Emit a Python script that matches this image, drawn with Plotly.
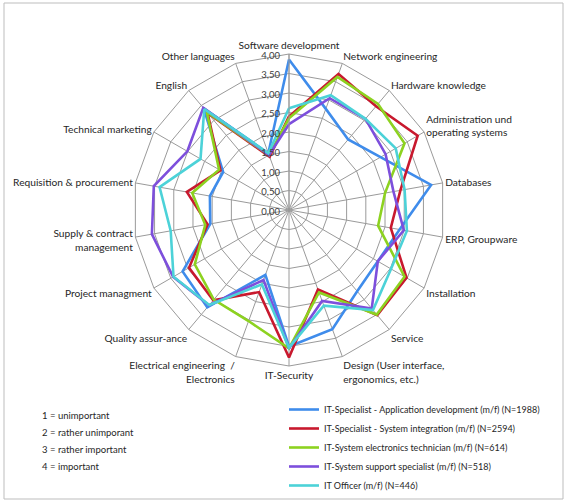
import plotly.graph_objects as go

categories = [
    "Software development", "Network engineering", "Hardware knowledge",
    "Administration und<br>operating systems", "Databases", "ERP, Groupware",
    "Installation", "Service", "Design (User interface,<br>ergonomics, etc.)",
    "IT-Security", "Electrical engineering  /<br>Electronics", "Quality assur-ance",
    "Project managment", "Supply & contract<br>management", "Requisition & procurement",
    "Technical marketing", "English", "Other languages",
]

app_dev = [3.86, 2.76, 2.36, 2.71, 3.70, 2.88, 2.63, 2.72, 3.25, 3.50, 1.77, 3.26, 3.15, 2.05, 2.06, 1.95, 3.40, 1.55]
sys_int = [2.40, 3.71, 3.47, 3.81, 2.90, 2.65, 3.48, 3.52, 2.17, 3.78, 2.24, 3.02, 2.96, 2.12, 2.66, 2.03, 3.25, 1.45]
electronics = [2.35, 3.63, 3.55, 3.42, 2.50, 2.32, 3.42, 3.50, 2.25, 3.55, 3.03, 3.00, 2.79, 2.18, 2.52, 2.07, 3.28, 1.50]
support = [2.20, 3.05, 3.05, 2.86, 2.72, 2.99, 2.63, 3.30, 2.48, 3.55, 1.91, 3.19, 3.43, 3.57, 3.52, 3.01, 3.42, 1.50]
officer = [2.61, 3.13, 3.05, 3.16, 3.01, 3.07, 3.02, 3.35, 2.61, 3.53, 2.03, 3.18, 3.42, 3.08, 3.37, 2.62, 3.38, 1.55]

series_names = [
    "IT-Specialist - Application development (m/f) (N=1988)",
    "IT-Specialist - System integration (m/f) (N=2594)",
    "IT-System electronics technician (m/f) (N=614)",
    "IT-System support specialist (m/f) (N=518)",
    "IT Officer (m/f) (N=446)",
]
series_values = [app_dev, sys_int, electronics, support, officer]
colors = ["#3F8CEB", "#C8192E", "#8DD220", "#7D4FDC", "#4CD2D8"]

radial_ticks = [0, 0.5, 1, 1.5, 2, 2.5, 3, 3.5, 4]

key_lines = ["1 = unimportant", "2 = rather unimporant", "3 = rather important", "4 = important"]

fig = go.Figure()
for name, vals, col in zip(series_names, series_values, colors):
    fig.add_trace(go.Scatterpolar(
        r=vals + vals[:1], theta=categories + categories[:1],
        mode="lines", name=name, line=dict(color=col, width=2.6),
    ))

W, H = 567, 503
FONT = "Lato, Open Sans, sans-serif"
fig.update_layout(
    width=W, height=H, margin=dict(l=0, r=0, t=0, b=0, autoexpand=False),
    paper_bgcolor="white", plot_bgcolor="white",
    separators=", ",
    font=dict(family=FONT, size=10, color="#262626"),
    polar=dict(
        domain=dict(x=[133 / W, 445 / W], y=[1 - 366 / H, 1 - 54 / H]),
        gridshape="linear", bgcolor="white",
        angularaxis=dict(rotation=90, direction="clockwise",
                         showline=True, linecolor="#9A9A9A", linewidth=1,
                         gridcolor="#9A9A9A", gridwidth=1, ticks="",
                         tickfont=dict(family=FONT, size=10.2, color="#262626")),
        radialaxis=dict(range=[0, 4], tickvals=radial_ticks, tickformat=".2f",
                        angle=90, side="counterclockwise", showline=True,
                        linecolor="#9A9A9A", gridcolor="#9A9A9A", gridwidth=1,
                        ticks="", tickfont=dict(family=FONT, size=9.5, color="#404040")),
    ),
    legend=dict(x=284 / W, y=1 - 395 / H, xanchor="left", yanchor="top",
                font=dict(family=FONT, size=9, color="#262626"), bgcolor="rgba(0,0,0,0)",
                itemwidth=30, tracegroupgap=0),
    showlegend=True,
    shapes=[dict(type="rect", xref="paper", yref="paper",
                 x0=4 / W, x1=563 / W, y0=1 - 499 / H, y1=1 - 3 / H,
                 line=dict(color="#BDBDBD", width=1))],
    annotations=[dict(
        text=t, xref="paper", yref="paper", x=40 / W, y=1 - (415 + 17 * i) / H,
        xanchor="left", yanchor="middle", align="left", showarrow=False,
        font=dict(family=FONT, size=9.5, color="#262626")) for i, t in enumerate(key_lines)],
)

fig.write_html("out.html", config={"displayModeBar": False},
               post_script="document.body.style.margin='0px';")
